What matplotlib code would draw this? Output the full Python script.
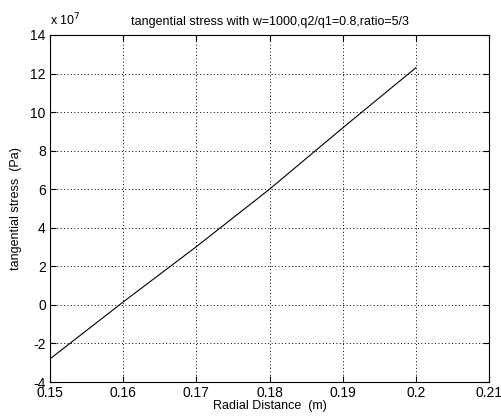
import matplotlib
matplotlib.use("Agg")
import matplotlib.pyplot as plt
import numpy as np

plt.rcParams['font.family'] = ['Liberation Sans', 'DejaVu Sans']
plt.rcParams['axes.unicode_minus'] = False

radius = [0.15, 0.16, 0.17, 0.18, 0.19, 0.20]
stress_1e7 = [-2.8, 0.15, 3.02, 6.0, 9.18, 12.3]
xticks = [0.15, 0.16, 0.17, 0.18, 0.19, 0.2, 0.21]
xticklabels = ['0.15', '0.16', '0.17', '0.18', '0.19', '0.2', '0.21']
yticks = [-4, -2, 0, 2, 4, 6, 8, 10, 12, 14]

fig = plt.figure(figsize=(5.01, 4.16), dpi=100)
ax = fig.add_axes([50/501, 1-382/416, 439/501, 347/416])
ax.plot(radius, stress_1e7, color='black', linewidth=0.8)
ax.set_xlim(0.15, 0.21)
ax.set_ylim(-4, 14)
ax.set_xticks(xticks)
ax.set_xticklabels(xticklabels)
ax.set_yticks(yticks)
ax.grid(True, color='black', linestyle=(0, (1, 2.5)), linewidth=0.7)
ax.tick_params(direction='in', top=True, right=True, labelsize=10, length=4, pad=3)
for s in ax.spines.values():
    s.set_linewidth(0.8)
ax.set_title('tangential stress with w=1000,q2/q1=0.8,ratio=5/3', fontsize=9, pad=7)
ax.set_xlabel('Radial Distance  (m)', fontsize=9, labelpad=0)
ax.set_ylabel('tangential stress  (Pa)', fontsize=9, labelpad=6)
fig.text(50/501, 1-25/416, r'x 10$^7$', fontsize=9, ha='left', va='baseline')
fig.savefig('out.png', dpi=100)
